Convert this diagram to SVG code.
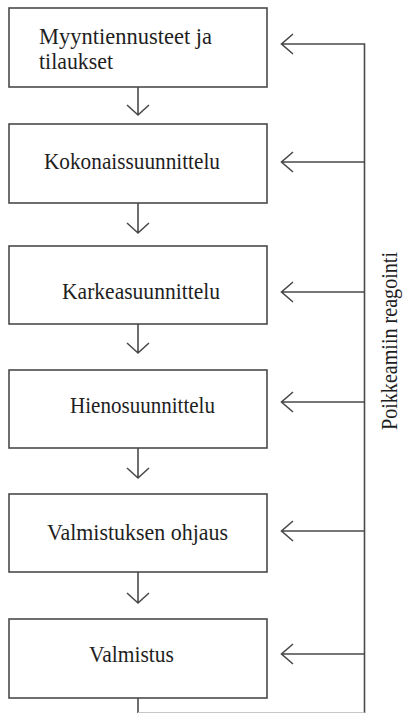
<svg xmlns="http://www.w3.org/2000/svg" width="403" height="713" viewBox="0 0 403 713">
<style>
.box{fill:#fff;stroke:#4a4a4a;stroke-width:1.6}
.ln{fill:none;stroke:#4a4a4a;stroke-width:1.6}
.t{font-family:'Times New Roman',Times,Tinos,'Liberation Serif','DejaVu Serif',serif;font-size:23px;fill:#1e1e1e}
</style>
<rect width="403" height="713" fill="#fff"/>
<g id="connectors">
<path class="ln" d="M138 87V115M127 105L138 115L149 105"/>
<path class="ln" d="M138 203V233M127 223L138 233L149 223"/>
<path class="ln" d="M138 324V353M127 343L138 353L149 343"/>
<path class="ln" d="M138 448V478M127 468L138 478L149 468"/>
<path class="ln" d="M138 572V603M127 593L138 603L149 593"/>
<path class="ln" d="M138 698V713M364.5 713V44H281.5M293 34L281.5 44L293 54"/>
<path d="M138 712.5H364.5" fill="none" stroke="#c8c8c8" stroke-width="1"/>
<path class="ln" d="M364.5 162H281.5M293 152L281.5 162L293 172"/>
<path class="ln" d="M364.5 292H281.5M293 282L281.5 292L293 302"/>
<path class="ln" d="M364.5 402H281.5M293 392L281.5 402L293 412"/>
<path class="ln" d="M364.5 531H281.5M293 521L281.5 531L293 541"/>
<path class="ln" d="M364.5 654H281.5M293 644L281.5 654L293 664"/>
</g>
<g id="n1"><rect class="box" x="9" y="8" width="258" height="79"/><text class="t" x="39" y="44" textLength="173" lengthAdjust="spacingAndGlyphs">Myyntiennusteet ja</text><text class="t" x="39" y="69" textLength="74" lengthAdjust="spacingAndGlyphs">tilaukset</text></g>
<g id="n2"><rect class="box" x="9" y="124" width="258" height="79"/><text class="t" x="44" y="169" textLength="176" lengthAdjust="spacingAndGlyphs">Kokonaissuunnittelu</text></g>
<g id="n3"><rect class="box" x="9" y="246" width="258" height="78"/><text class="t" x="62" y="299" textLength="158" lengthAdjust="spacingAndGlyphs">Karkeasuunnittelu</text></g>
<g id="n4"><rect class="box" x="9" y="370" width="258" height="78"/><text class="t" x="70" y="413" textLength="145" lengthAdjust="spacingAndGlyphs">Hienosuunnittelu</text></g>
<g id="n5"><rect class="box" x="9" y="494" width="258" height="78"/><text class="t" x="47" y="540" textLength="181" lengthAdjust="spacingAndGlyphs">Valmistuksen ohjaus</text></g>
<g id="n6"><rect class="box" x="9" y="619" width="258" height="79"/><text class="t" x="89" y="662" textLength="85" lengthAdjust="spacingAndGlyphs">Valmistus</text></g>
<g id="label"><text class="t" transform="translate(397 430) rotate(-90)" x="0" y="0" textLength="178" lengthAdjust="spacingAndGlyphs">Poikkeamiin reagointi</text></g>
</svg>
